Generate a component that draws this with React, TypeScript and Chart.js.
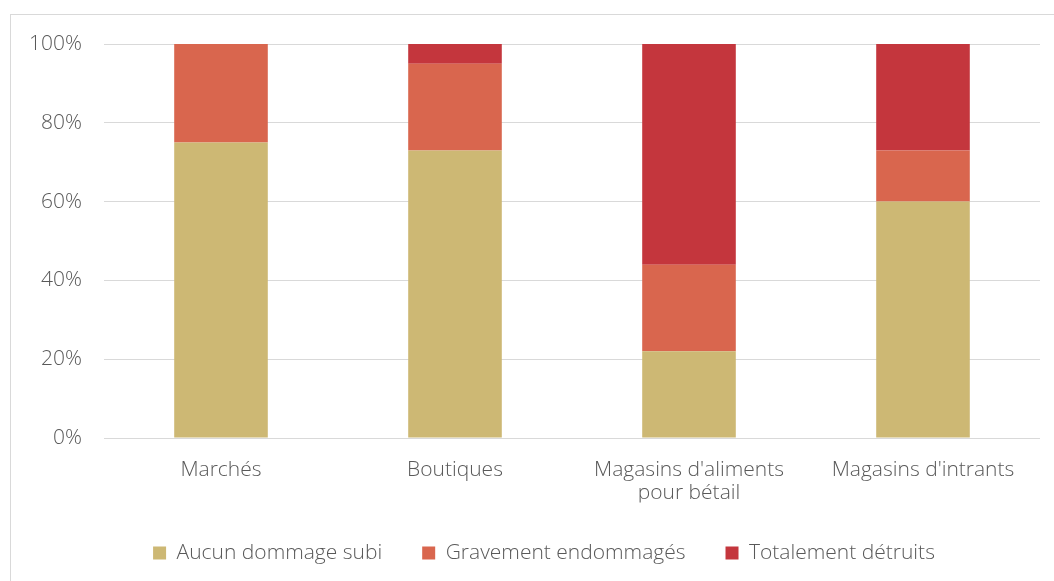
import React, { useEffect, useRef } from "react";
import { Chart, registerables } from "chart.js";

Chart.register(...registerables);

const categories: (string | string[])[] = [
  "Marchés",
  "Boutiques",
  ["Magasins d'aliments", "pour bétail"],
  "Magasins d'intrants",
];
const aucunDommage = [75, 73, 22, 60];
const gravement = [25, 22, 22, 13];
const totalement = [0, 5, 56, 27];
const seriesNames = ["Aucun dommage subi", "Gravement endommagés", "Totalement détruits"];
const seriesColors = ["#CDB874", "#D9664E", "#C4363D"];
const yTicks = [0, 20, 40, 60, 80, 100];

const FONT = "'Open Sans'";
const TEXT = "#595959";
const FS = 21;
const CANVAS_W = 1088;
const CANVAS_H = 581;

export default function App() {
  const ref = useRef<HTMLCanvasElement | null>(null);
  useEffect(() => {
    if (!ref.current) return;
    const chart = new Chart(ref.current, {
      type: "bar",
      data: {
        labels: categories,
        datasets: [aucunDommage, gravement, totalement].map((d, i) => ({
          label: seriesNames[i],
          data: d,
          backgroundColor: seriesColors[i],
          borderWidth: 0,
          barPercentage: 0.4,
          categoryPercentage: 1,
        })),
      },
      options: {
        responsive: false,
        animation: false,
        layout: { padding: { left: 0, right: 0, top: 44, bottom: 7.5 } },
        plugins: {
          tooltip: { enabled: false },
          legend: {
            position: "bottom",
            labels: {
              boxWidth: 13,
              boxHeight: 13,
              padding: 40,
              color: TEXT,
              font: { family: FONT, size: FS, weight: 300 },
            },
          },
        },
        scales: {
          x: {
            stacked: true,
            grid: { display: false, drawTicks: false },
            border: { display: false },
            ticks: {
              color: TEXT,
              padding: 20,
              maxRotation: 0,
              autoSkip: false,
              font: { family: FONT, size: FS, weight: 300, lineHeight: 1.1 },
            },
            afterFit: (s: any) => {
              s.height = 64.5;
            },
          },
          y: {
            stacked: true,
            min: 0,
            max: 100,
            afterBuildTicks: (s: any) => {
              s.ticks = yTicks.map((v) => ({ value: v }));
            },
            grid: { color: "#D9D9D9", lineWidth: 1, drawTicks: false },
            border: { display: false },
            ticks: {
              color: TEXT,
              padding: 22,
              callback: (v: any) => v + "%",
              font: { family: FONT, size: FS, weight: 300 },
            },
            afterFit: (s: any) => {
              s.width = 104;
            },
          },
          spacer: {
            type: "linear",
            position: "right",
            display: true,
            grid: { display: false, drawTicks: false },
            border: { display: false },
            ticks: { display: false },
            afterFit: (s: any) => {
              s.width = 48;
            },
          },
        },
      },
    });
    return () => chart.destroy();
  }, []);
  return (
    <div
      style={{
        position: "absolute",
        left: 0,
        top: 0,
        width: 1054,
        height: 581,
        overflow: "hidden",
        background: "#fff",
      }}
    >
      <div
        style={{
          position: "absolute",
          left: 10,
          top: 14,
          width: 1200,
          height: 800,
          border: "1px solid #D9D9D9",
        }}
      />
      <canvas
        ref={ref}
        width={CANVAS_W}
        height={CANVAS_H}
        style={{ position: "absolute", left: 0, top: 0 }}
      />
    </div>
  );
}
